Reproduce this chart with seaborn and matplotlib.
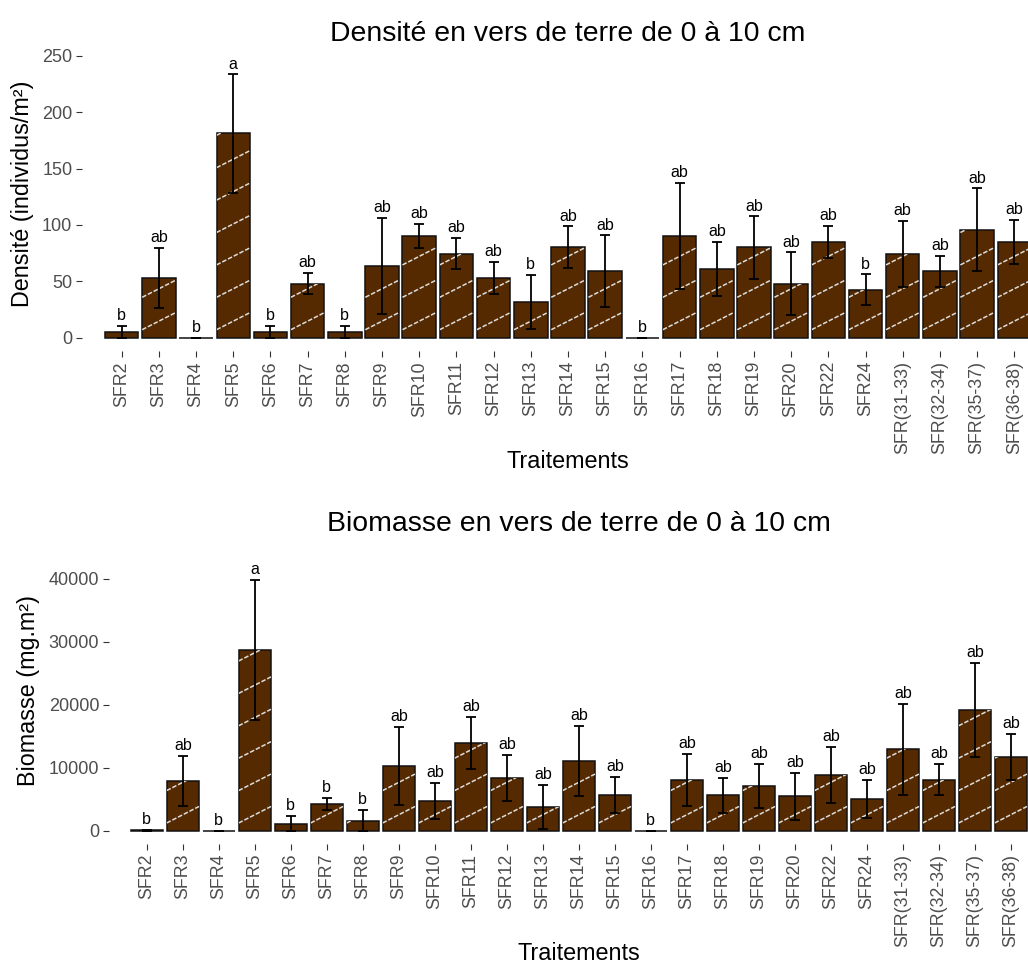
import numpy as np
import pandas as pd
import matplotlib
matplotlib.use("Agg")
import matplotlib.pyplot as plt
import seaborn as sns
from matplotlib.lines import Line2D

# Treatments
traitements = ["SFR2", "SFR3", "SFR4", "SFR5", "SFR6", "SFR7", "SFR8", "SFR9",
               "SFR10", "SFR11", "SFR12", "SFR13", "SFR14", "SFR15", "SFR16",
               "SFR17", "SFR18", "SFR19", "SFR20", "SFR22", "SFR24",
               "SFR(31-33)", "SFR(32-34)", "SFR(35-37)", "SFR(36-38)"]

# Earthworm density (individuals/m²), mean and standard error
densite = [5.3, 53.2, 0, 181.1, 5.3, 47.9, 5.3, 63.8, 90.4, 74.5, 53.2, 31.6,
           80.1, 58.8, 0, 90.4, 61.2, 80.1, 47.9, 85.1, 42.6, 74.5, 58.8, 95.7, 85.1]
densite_se = [5.3, 26.6, 0, 52.5, 5.3, 9.5, 5.3, 42.7, 10.5, 13.9, 14.2, 24.0,
              18.6, 31.9, 0, 47.2, 24.0, 27.7, 28.0, 14.0, 13.7, 29.3, 13.9, 36.6, 19.4]
densite_lettres = ["b", "ab", "b", "a", "b", "ab", "b", "ab", "ab", "ab", "ab", "b",
                   "ab", "ab", "b", "ab", "ab", "ab", "ab", "ab", "b", "ab", "ab", "ab", "ab"]

# Earthworm biomass (mg.m²), mean and standard error
biomasse = [100, 7990, 0, 28700, 1160, 4290, 1640, 10320, 4810, 13970, 8410, 3810,
            11060, 5710, 0, 8150, 5710, 7190, 5500, 8830, 5080, 12960, 8150, 19200, 11740]
biomasse_se = [120, 3950, 0, 11100, 1200, 980, 1700, 6150, 2880, 4100, 3620, 3470,
               5580, 2880, 0, 4130, 2780, 3490, 3730, 4440, 2990, 7220, 2410, 7490, 3620]
biomasse_lettres = ["b", "ab", "b", "a", "b", "b", "b", "ab", "ab", "ab", "ab", "ab",
                    "ab", "ab", "b", "ab", "ab", "ab", "ab", "ab", "ab", "ab", "ab", "ab", "ab"]

df = pd.DataFrame({"Traitement": traitements,
                   "Densite": densite, "Densite_se": densite_se,
                   "Biomasse": biomasse, "Biomasse_se": biomasse_se})

sns.set_theme(style="white")
plt.rcParams["font.family"] = ["Liberation Sans", "DejaVu Sans"]

W, H, DPI = 1028, 963, 100
fig = plt.figure(figsize=(W / DPI, H / DPI), dpi=DPI)

FILL = "#552A00"
TICK_COL = "#4D4D4D"


def add_stripes(ax, slope=0.51, spacing=32.4, offset=8.0):
    """Light dashed diagonal stripes clipped to each bar."""
    pos = ax.get_position()
    x0l, x1l = ax.get_xlim()
    y0l, y1l = ax.get_ylim()
    sx = pos.width * W / (x1l - x0l)   # px per x unit
    sy = pos.height * H / (y1l - y0l)  # px per y unit
    for bar in list(ax.patches):
        bx, by = bar.get_x(), bar.get_y()
        bw, bh = bar.get_width(), bar.get_height()
        if bh <= 0:
            continue
        pw, ph = bw * sx, bh * sy
        c = offset
        while c - spacing > -slope * pw:
            c -= spacing
        while c < ph:
            xs = np.array([0.0, pw])
            ys = c + slope * xs
            line = Line2D(bx + xs / sx, by + ys / sy, color="#DCDCDC", lw=1.1,
                          linestyle=(0, (3, 1.2)), zorder=bar.get_zorder() + 0.1)
            ax.add_line(line)
            line.set_clip_path(bar)
            c += spacing


def panel(rect, col, se_col, lettres, xlim, ylim, yticks, title, title_pad,
          ylabel, ylabel_xy, xlabel_y, letter_pad):
    ax = fig.add_axes(rect)
    sns.barplot(data=df, x="Traitement", y=col, color=FILL, saturation=1,
                width=0.9, edgecolor="#111111", linewidth=1.1, errorbar=None, ax=ax)
    ax.set_xlim(*xlim)
    ax.set_ylim(*ylim)
    ax.set_yticks(yticks)
    xs = np.arange(len(df))
    ax.errorbar(xs, df[col], yerr=df[se_col], fmt="none", ecolor="black",
                elinewidth=1.3, capsize=3.4, capthick=1.3, zorder=5)
    for x, m, s, lab in zip(xs, df[col], df[se_col], lettres):
        ax.annotate(lab, (x, m + s), xytext=(0, letter_pad), textcoords="offset points",
                    ha="center", va="baseline", fontsize=11.5, color="black", zorder=6)
    add_stripes(ax)
    for sp in ax.spines.values():
        sp.set_visible(False)
    ax.tick_params(axis="both", which="major", length=4, width=0.8, color="#333333",
                   labelcolor=TICK_COL, labelsize=13, pad=3, bottom=True, left=True)
    ax.tick_params(axis="x", labelrotation=90, labelsize=12.8)
    ax.set_title(title, fontsize=20.4, color="black", pad=title_pad)
    ax.set_xlabel("Traitements", fontsize=16.8, color="black")
    ax.xaxis.set_label_coords(0.5, xlabel_y)
    ax.xaxis.label.set_va("center")
    ax.set_ylabel(ylabel, fontsize=16.8, color="black")
    ax.yaxis.set_label_coords(*ylabel_xy)
    ax.yaxis.label.set_va("center")
    ax.grid(False)
    return ax


def frac_rect(left_px, right_px, top_px, bottom_px):
    return [left_px / W, 1 - bottom_px / H, (right_px - left_px) / W,
            (bottom_px - top_px) / H]


# Density panel
ax1 = panel(frac_rect(82, 1054, 50.1, 351.4), "Densite", "Densite_se", densite_lettres,
            (-1.067, 25.067), (-12.15, 255), [0, 50, 100, 150, 200, 250],
            "Densité en vers de terre de 0 à 10 cm", 6.8,
            "Densité (individus/m²)", (-0.061, 0.522), -0.364, 4.0)

# Biomass panel
ax2 = panel(frac_rect(109, 1048.6, 555.8, 844.1), "Biomasse", "Biomasse_se", biomasse_lettres,
            (-1.05, 25.05), (-2080, 43680), [0, 10000, 20000, 30000, 40000],
            "Biomasse en vers de terre de 0 à 10 cm", 17.9,
            "Biomasse (mg.m²)", (-0.086, 0.5345), -0.378, 4.3)

fig.savefig("out.png", dpi=DPI, facecolor="white")
